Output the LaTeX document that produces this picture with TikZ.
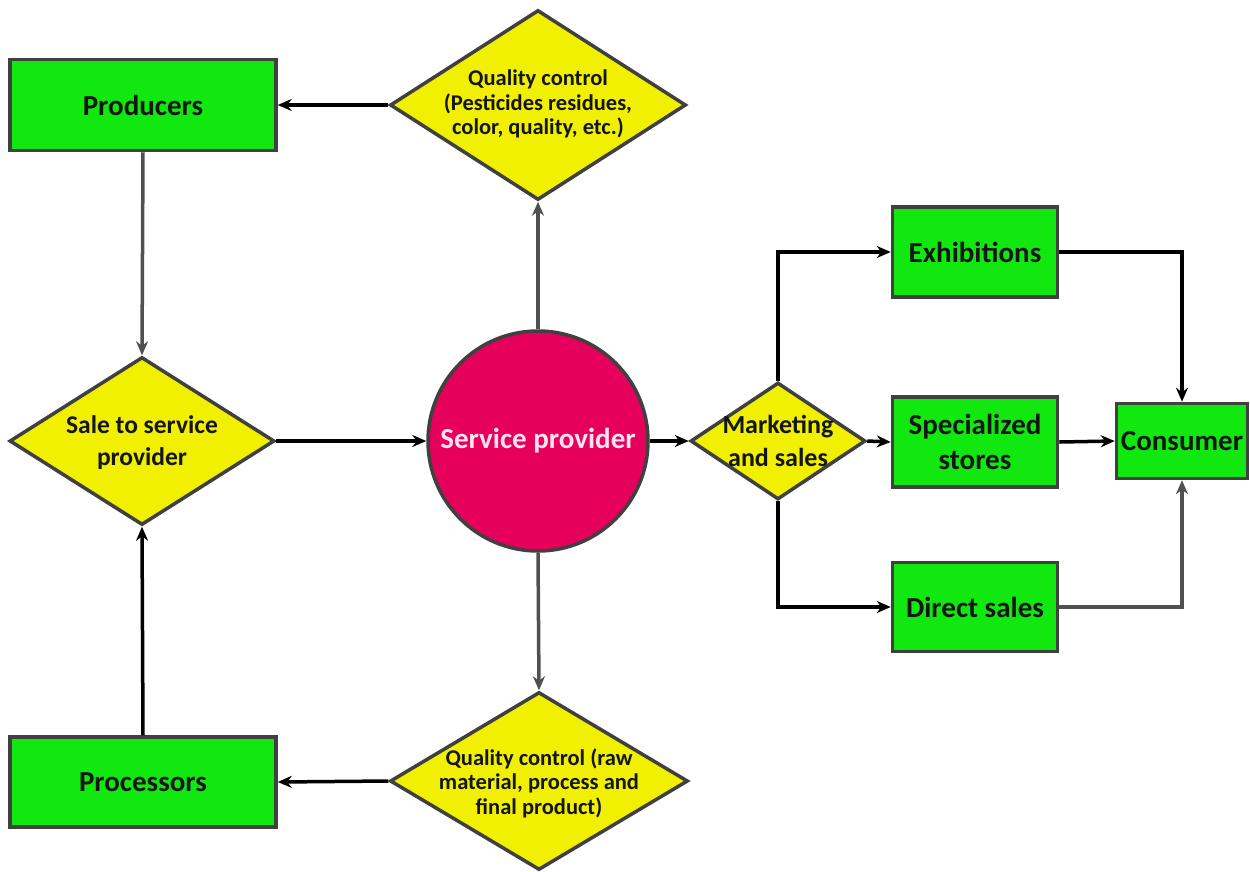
\documentclass[tikz,border=0pt]{standalone}
\usepackage{fontspec}
\setmainfont{Carlito}
\usetikzlibrary{shapes.geometric,arrows.meta}
\definecolor{boxgreen}{HTML}{10E810}
\definecolor{diayellow}{HTML}{F0F000}
\definecolor{circpink}{HTML}{E6005C}
\definecolor{edgegray}{HTML}{404040}
\definecolor{linegray}{HTML}{505050}
\definecolor{txt}{HTML}{151515}
\definecolor{circtxt}{HTML}{FFE4F0}
\tikzset{
  x=1pt, y=-1pt,
  gbox/.style={draw=edgegray, line width=3.5pt, fill=boxgreen, rectangle, inner sep=0pt,
     font=\bfseries\fontsize{29}{35}\selectfont, text=txt, align=center},
  ydiam/.style={draw=edgegray, line width=3.5pt, fill=diayellow, diamond, inner sep=0pt},
  dtext/.style={font=\bfseries\fontsize{22.5}{24.5}\selectfont, text=txt, align=center, inner sep=0pt},
  blk/.style={line width=3.5pt, draw=black, -{Stealth[length=14pt,width=12pt]}},
  gry/.style={line width=3.5pt, draw=linegray, -{Stealth[length=14pt,width=12pt]}},
}
\begin{document}
\begin{tikzpicture}
\useasboundingbox (0,0) rectangle (1250,871);
\fill[white] (0,0) rectangle (1250,871);
% boxes
\node[gbox, minimum width=266pt, minimum height=91pt] (prod) at (143,105) {Producers};
\node[gbox, minimum width=266pt, minimum height=90pt] (proc) at (143,782) {Processors};
\node[gbox, minimum width=165pt, minimum height=90pt] (exh) at (975,252) {Exhibitions};
\node[gbox, minimum width=165pt, minimum height=90pt] (spec) at (975,442) {Specialized\\stores};
\node[gbox, minimum width=165pt, minimum height=89pt] (dir) at (975,607) {Direct sales};
\node[gbox, minimum width=131pt, minimum height=75pt] (cons) at (1182,441) {Consumer};
% diamonds
\node[ydiam, minimum width=296pt, minimum height=190pt] (qc1) at (538,105) {};
\node[dtext] (qc1t) at (538,104) {Quality control\\(Pesticides residues,\\color, quality, etc.)};
\node[ydiam, minimum width=298pt, minimum height=178pt] (qc2) at (539,781) {};
\node[dtext] (qc2t) at (539,783) {Quality control (raw\\material, process and\\final product)};
\node[ydiam, minimum width=265pt, minimum height=168pt] (sale) at (142,441) {};
\node[dtext, font=\bfseries\fontsize{25.5}{32}\selectfont] (salet) at (142,443) {Sale to service\\provider};
\node[ydiam, minimum width=175pt, minimum height=117pt] (mkt) at (778,441) {};
\node[dtext, font=\bfseries\fontsize{26}{33}\selectfont] (mktt) at (778,441) {Marketing\\and sales};
% circle
\node[circle, draw=edgegray, line width=3.5pt, fill=circpink, minimum size=220pt, inner sep=0pt,
      font=\bfseries\fontsize{29}{31}\selectfont, text=circtxt] (sp) at (538,441) {Service provider};
% connectors
\draw[gry] (prod.south) -- (sale.north);
\draw[blk] (proc.north) -- (sale.south);
\draw[blk] (sale.east) -- (sp.west);
\draw[gry] (sp.north) -- (qc1.south);
\draw[blk] (qc1.west) -- (prod.east);
\draw[gry] (sp.south) -- (qc2.north);
\draw[blk] (qc2.west) -- (proc.east);
\draw[blk] (sp.east) -- (mkt.west);
\draw[blk] (mkt.north) |- (exh.west);
\draw[blk] (mkt.east) -- (spec.west);
\draw[blk] (mkt.south) |- (dir.west);
\draw[blk] (exh.east) -| (cons.north);
\draw[blk] (spec.east) -- (cons.west);
\draw[gry] (dir.east) -| (cons.south);
\end{tikzpicture}
\end{document}
